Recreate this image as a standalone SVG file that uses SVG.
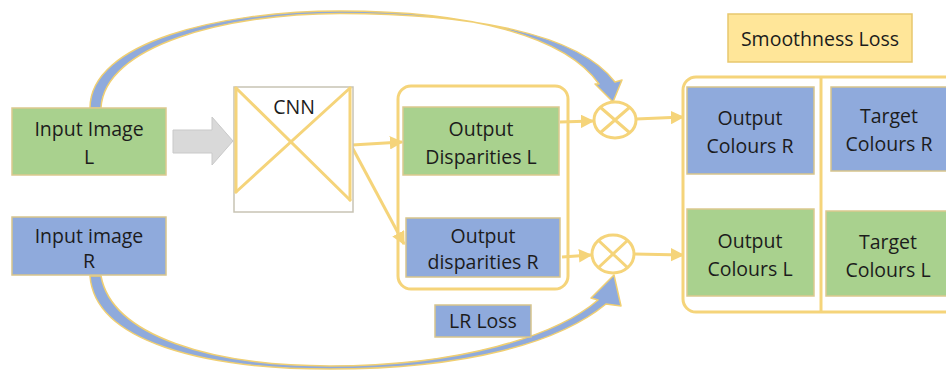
<svg xmlns="http://www.w3.org/2000/svg" width="946" height="372" viewBox="0 0 946 372">
  <defs>
    <marker id="arrow" viewBox="0 0 10 10" refX="9" refY="5" markerWidth="4.5" markerHeight="4.5" orient="auto" markerUnits="strokeWidth">
      <path d="M0,0 L10,5 L0,10 Z" fill="#f5d47a"/>
    </marker>
  </defs>
  <style>
    .green { fill: #a9d18e; stroke: #dcc98e; stroke-width: 1.5; }
    .blue { fill: #8faadc; stroke: #d8c58c; stroke-width: 1.5; }
    .label { font-family: "Open Sans", "Noto Sans", sans-serif; font-size: 19.5px; fill: #1c1c1c; text-anchor: middle; }
    .frame { fill: none; stroke: #f5d47a; stroke-width: 3; }
    .link { fill: none; stroke: #f5d47a; stroke-width: 3; marker-end: url(#arrow); }
    .band { fill: #8faadc; stroke: #f0cf72; stroke-width: 1.5; stroke-linejoin: round; }
    .mult { fill: #ffffff; stroke: #f5d47a; stroke-width: 3; }
  </style>

  <rect width="946" height="372" fill="#ffffff"/>

  <!-- curved skip connections from the inputs to the multipliers -->
  <g id="connectors">
    <path class="band" d="M90,108 C90,42 220,11 340,11 C470,11 565,36 599,84 L595,84 L613,102 L622,80 L615,82 C578,33 470,13.5 340,13.5 C225,13.5 104,46 101,108 Z"/>
    <path class="band" d="M90,276 C95,342 205,369 330,369 C468,369 560,342 606,304 L621,306 L614,275 L591,298 L598,300 C556,336 460,366 330,366 C212,366 112,336 101,276 Z"/>

    <!-- grey input arrow into the network -->
    <path d="M173,130 L212,130 L212,117 L233,141 L212,165 L212,153 L173,153 Z" fill="#d9d9d9" stroke="#c9c9c9" stroke-width="1"/>

    <!-- network outputs -->
    <line class="link" x1="352" y1="145" x2="402" y2="142"/>
    <line class="link" x1="352" y1="147" x2="404" y2="244"/>

    <!-- disparities to multipliers -->
    <line class="link" x1="560" y1="122" x2="593" y2="121"/>
    <line class="link" x1="562" y1="257" x2="591" y2="255"/>

    <!-- multipliers to output colours -->
    <line class="link" x1="636" y1="119" x2="683" y2="117"/>
    <line class="link" x1="634" y1="254" x2="683" y2="255"/>
  </g>

  <g id="input-image-l">
    <rect class="green" x="12" y="108" width="154" height="67"/>
    <text class="label" x="89" y="136">Input Image</text>
    <text class="label" x="89" y="164">L</text>
  </g>

  <g id="input-image-r">
    <rect class="blue" x="12" y="217" width="154" height="58"/>
    <text class="label" x="89" y="243">Input image</text>
    <text class="label" x="89" y="268">R</text>
  </g>

  <g id="cnn">
    <rect x="234" y="87" width="119" height="125" fill="#ffffff" stroke="#c8c3b4" stroke-width="1.5"/>
    <g fill="none" stroke="#f5d47a" stroke-width="3" stroke-linecap="round">
      <line x1="236" y1="88" x2="236" y2="192"/>
      <line x1="350" y1="88" x2="350" y2="200"/>
      <line x1="236" y1="88" x2="350" y2="200"/>
      <line x1="350" y1="88" x2="236" y2="192"/>
    </g>
    <text class="label" x="294" y="114">CNN</text>
  </g>

  <g id="disparities">
    <rect class="frame" x="398" y="86" width="170" height="203" rx="13"/>
    <g id="output-disparities-l">
      <rect class="green" x="403" y="107" width="156" height="68"/>
      <text class="label" x="481" y="136">Output</text>
      <text class="label" x="481" y="164">Disparities L</text>
    </g>
    <g id="output-disparities-r">
      <rect class="blue" x="406" y="218" width="154" height="59"/>
      <text class="label" x="483" y="243">Output</text>
      <text class="label" x="483" y="269">disparities R</text>
    </g>
  </g>

  <g id="lr-loss">
    <rect class="blue" x="435" y="305" width="96" height="32"/>
    <text class="label" x="483" y="328">LR Loss</text>
  </g>

  <g id="multiply-top">
    <ellipse class="mult" cx="615" cy="120" rx="21" ry="18"/>
    <path d="M600,107 L630,133 M630,107 L600,133" stroke="#f5d47a" stroke-width="3"/>
  </g>

  <g id="multiply-bottom">
    <ellipse class="mult" cx="613" cy="254" rx="21" ry="19"/>
    <path d="M598,240 L628,268 M628,240 L598,268" stroke="#f5d47a" stroke-width="3"/>
  </g>

  <g id="smoothness-loss">
    <rect x="728" y="14" width="184" height="48" fill="#ffe699" stroke="#e8c76e" stroke-width="1.5"/>
    <text class="label" x="820" y="46">Smoothness Loss</text>
  </g>

  <g id="colours">
    <rect class="frame" x="683" y="77" width="275" height="235" rx="13"/>
    <line x1="821" y1="78" x2="821" y2="311" stroke="#f5d47a" stroke-width="3"/>
    <g id="output-colours-r">
      <rect class="blue" x="687" y="87" width="127" height="87"/>
      <text class="label" x="750" y="125">Output</text>
      <text class="label" x="750" y="153">Colours R</text>
    </g>
    <g id="target-colours-r">
      <rect class="blue" x="831" y="87" width="120" height="84"/>
      <text class="label" x="889" y="123">Target</text>
      <text class="label" x="889" y="151">Colours R</text>
    </g>
    <g id="output-colours-l">
      <rect class="green" x="687" y="209" width="127" height="87"/>
      <text class="label" x="750" y="248">Output</text>
      <text class="label" x="750" y="276">Colours L</text>
    </g>
    <g id="target-colours-l">
      <rect class="green" x="826" y="211" width="125" height="85"/>
      <text class="label" x="888" y="249">Target</text>
      <text class="label" x="888" y="277">Colours L</text>
    </g>
  </g>
</svg>
